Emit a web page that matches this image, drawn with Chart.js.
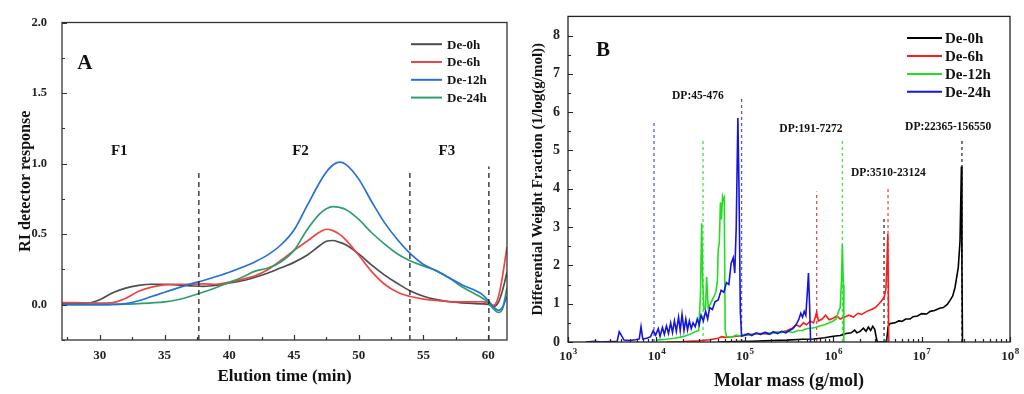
<!DOCTYPE html>
<html>
<head>
<meta charset="utf-8">
<script src="https://cdn.jsdelivr.net/npm/chart.js@4.4.1/dist/chart.umd.min.js"></script>
<style>
    html, body { margin: 0; padding: 0; background: #fff; }
    #page { position: relative; width: 1024px; height: 394px; overflow: hidden; }
    .panel { position: absolute; top: 0; width: 512px; height: 394px; }
    #panelA { left: 0; }
    #panelB { left: 512px; }
</style>
</head>
<body>
<div id="page">
    <div class="panel" id="panelA"><canvas id="riChart" width="512" height="394"></canvas></div>
    <div class="panel" id="panelB"><canvas id="massChart" width="512" height="394"></canvas></div>
</div>
<script>
// ---------- Panel A: RI detector response vs elution time ----------
const sampleLabels = ['De-0h', 'De-6h', 'De-12h', 'De-24h'];

const elutionTime = [27, 28, 29, 30, 31, 32, 33, 34, 35, 36, 37, 38, 39, 40, 41, 42, 43, 44, 45, 46,
    47, 47.5, 48, 48.5, 49, 50, 51, 52, 53, 54, 55, 56, 57, 58, 59, 59.5, 60, 60.4, 60.8, 61.1, 61.45];

const riDe0h = [0.01, 0.01, 0.01, 0.035, 0.085, 0.118, 0.137, 0.145, 0.145, 0.14, 0.134, 0.13, 0.138, 0.155, 0.17, 0.195,
    0.225, 0.262, 0.3, 0.35, 0.42, 0.45, 0.455, 0.443, 0.425, 0.36, 0.28, 0.21, 0.15, 0.097, 0.06, 0.036, 0.021, 0.013,
    0.008, 0.006, 0.003, -0.015, 0.02, 0.1, 0.23];
const riDe6h = [0.015, 0.015, 0.013, 0.012, 0.015, 0.045, 0.095, 0.125, 0.14, 0.145, 0.145, 0.148, 0.145, 0.16, 0.18, 0.205,
    0.25, 0.315, 0.385, 0.45, 0.515, 0.535, 0.525, 0.5, 0.46, 0.35, 0.235, 0.145, 0.088, 0.058, 0.04, 0.03, 0.022, 0.02,
    0.02, 0.022, 0.01, -0.005, 0.06, 0.2, 0.41];
const riDe12h = [0, 0, 0, 0, 0.002, 0.008, 0.028, 0.058, 0.088, 0.118, 0.147, 0.172, 0.2, 0.23, 0.265, 0.305,
    0.355, 0.425, 0.53, 0.7, 0.87, 0.94, 0.99, 1.01, 0.995, 0.89, 0.73, 0.58, 0.46, 0.36, 0.285, 0.24, 0.19, 0.14,
    0.1, 0.075, 0.03, -0.015, -0.04, -0.02, 0.06];
const riDe24h = [0, 0, 0, 0, 0.002, 0.004, 0.008, 0.013, 0.02, 0.035, 0.06, 0.09, 0.122, 0.158, 0.195, 0.238,
    0.26, 0.305, 0.385, 0.53, 0.645, 0.68, 0.695, 0.69, 0.675, 0.605, 0.51, 0.43, 0.36, 0.31, 0.275, 0.24, 0.19, 0.125,
    0.075, 0.05, 0.015, -0.03, -0.055, -0.03, 0.12];

const fractionBounds = [37.65, 53.95, 60.05];
const fractionBoundTop = [0.94, 0.94, 0.98];
const fractionNames = ['F1', 'F2', 'F3'];
const fractionNameTime = [31.5, 45.5, 56.8];

// ---------- Panel B: differential weight fraction vs molar mass ----------
// [molar mass g/mol, differential weight fraction]
const wfDe0h = [[5.0e4, 0], [8.0e4, 0.01], [1.2e5, 0.02], [2.0e5, 0.04], [3.0e5, 0.05], [4.5e5, 0.07], [6.0e5, 0.08],
    [8.0e5, 0.11], [1.0e6, 0.15], [1.2e6, 0.17], [1.4e6, 0.22], [1.6e6, 0.24], [1.75e6, 0.31], [1.85e6, 0.24],
    [2.0e6, 0.27], [2.2e6, 0.36], [2.35e6, 0.28], [2.5e6, 0.39], [2.65e6, 0.3], [2.8e6, 0.41], [2.95e6, 0.33],
    [3.05e6, 0.15], [3.15e6, 0], [3.95e6, 0], [4.05e6, 0.1], [4.2e6, 0.42], [4.4e6, 0.48], [5.0e6, 0.5],
    [5.5e6, 0.55], [6.0e6, 0.54], [6.6e6, 0.6], [7.4e6, 0.6], [8.0e6, 0.66], [9.0e6, 0.68], [1.0e7, 0.74],
    [1.14e7, 0.73], [1.25e7, 0.8], [1.4e7, 0.82], [1.6e7, 0.88], [1.76e7, 0.9], [1.95e7, 0.98], [2.09e7, 1.08],
    [2.25e7, 1.2], [2.39e7, 1.43], [2.6e7, 1.95], [2.72e7, 2.64], [2.82e7, 4.58], [2.86e7, 2.0], [2.9e7, 0]];
const wfDe6h = [[1.3e4, 0], [2.0e4, 0.01], [3.0e4, 0.03], [4.0e4, 0.06], [5.0e4, 0.1], [5.5e4, 0.14], [6.0e4, 0.12],
    [7.0e4, 0.13], [8.0e4, 0.15], [1.0e5, 0.17], [1.2e5, 0.2], [1.5e5, 0.22], [1.8e5, 0.21], [2.2e5, 0.25],
    [2.6e5, 0.26], [3.0e5, 0.3], [3.4e5, 0.35], [3.8e5, 0.45], [4.2e5, 0.4], [4.6e5, 0.5], [5.0e5, 0.45],
    [5.5e5, 0.55], [6.0e5, 0.5], [6.5e5, 0.78], [6.8e5, 0.55], [7.5e5, 0.6], [8.2e5, 0.7], [9.0e5, 0.58],
    [1.0e6, 0.62], [1.1e6, 0.68], [1.2e6, 0.6], [1.35e6, 0.65], [1.5e6, 0.7], [1.7e6, 0.65], [1.9e6, 0.75],
    [2.1e6, 0.72], [2.4e6, 0.8], [2.7e6, 0.85], [3.0e6, 0.9], [3.3e6, 1.0], [3.6e6, 1.1], [3.8e6, 1.2],
    [3.95e6, 1.4], [4.05e6, 2.0], [4.15e6, 2.82], [4.25e6, 0]];
const wfDe12h = [[1.0e4, 0.05], [1.3e4, 0.07], [1.6e4, 0.1], [2.0e4, 0.14], [2.4e4, 0.2], [2.7e4, 0.26], [3.0e4, 0.3],
    [3.15e4, 1.2], [3.25e4, 3.1], [3.35e4, 1.5], [3.45e4, 0.85], [3.6e4, 0.9], [3.7e4, 1.7], [3.85e4, 0.9],
    [4.1e4, 1.0], [4.4e4, 1.15], [4.7e4, 1.3], [4.9e4, 1.6], [5.0e4, 2.4], [5.15e4, 2.6], [5.3e4, 3.65],
    [5.45e4, 3.2], [5.6e4, 3.8], [5.75e4, 3.7], [5.85e4, 3.75], [6.0e4, 0.3], [6.2e4, 0.15], [7.0e4, 0.12],
    [8.0e4, 0.18], [9.0e4, 0.15], [1.0e5, 0.2], [1.15e5, 0.17], [1.3e5, 0.22], [1.5e5, 0.2], [1.7e5, 0.25],
    [2.0e5, 0.22], [2.3e5, 0.26], [2.6e5, 0.24], [3.0e5, 0.28], [3.5e5, 0.25], [4.0e5, 0.3], [4.5e5, 0.3],
    [5.0e5, 0.35], [5.6e5, 0.36], [6.3e5, 0.38], [7.0e5, 0.42], [8.0e5, 0.45], [9.0e5, 0.5], [1.0e6, 0.55],
    [1.08e6, 0.6], [1.15e6, 0.8], [1.2e6, 0.9], [1.24e6, 1.6], [1.27e6, 2.55], [1.3e6, 1.5], [1.32e6, 0]];
const wfDe24h = [[1.6e3, 0], [2.0e3, 0.02], [2.4e3, 0], [3.0e3, 0.01], [3.6e3, 0.02], [3.8e3, 0.27], [4.0e3, 0.18],
    [4.3e3, 0.05], [5.0e3, 0.04], [5.8e3, 0.06], [6.4e3, 0.08], [6.7e3, 0.4], [7.0e3, 0.08], [7.8e3, 0.1],
    [8.6e3, 0.14], [9.2e3, 0.3], [9.8e3, 0.18], [1.05e4, 0.35], [1.1e4, 0.15], [1.17e4, 0.38], [1.23e4, 0.2],
    [1.3e4, 0.42], [1.37e4, 0.22], [1.45e4, 0.5], [1.52e4, 0.25], [1.6e4, 0.55], [1.68e4, 0.28], [1.78e4, 0.65],
    [1.86e4, 0.3], [1.95e4, 0.72], [2.05e4, 0.3], [2.15e4, 0.6], [2.25e4, 0.32], [2.36e4, 0.55], [2.48e4, 0.35],
    [2.6e4, 0.5], [2.75e4, 0.4], [2.9e4, 0.6], [3.05e4, 0.45], [3.2e4, 0.7], [3.4e4, 0.55], [3.6e4, 0.8],
    [3.8e4, 0.6], [4.0e4, 0.9], [4.3e4, 0.85], [4.6e4, 1.05], [5.0e4, 1.1], [5.4e4, 1.35], [5.8e4, 1.3],
    [6.2e4, 1.55], [6.6e4, 1.5], [7.0e4, 2.05], [7.4e4, 2.2], [7.7e4, 1.8], [8.0e4, 3.0], [8.35e4, 5.85],
    [8.6e4, 4.0], [8.9e4, 0.8], [9.2e4, 0.15], [1.0e5, 0.18], [1.1e5, 0.22], [1.2e5, 0.17], [1.35e5, 0.24],
    [1.5e5, 0.2], [1.7e5, 0.25], [1.9e5, 0.2], [2.1e5, 0.27], [2.35e5, 0.22], [2.6e5, 0.28], [2.9e5, 0.24],
    [3.2e5, 0.3], [3.5e5, 0.35], [3.8e5, 0.45], [4.1e5, 0.6], [4.3e5, 0.75], [4.5e5, 0.65], [4.7e5, 0.8],
    [4.9e5, 0.7], [5.1e5, 1.3], [5.25e5, 1.8], [5.4e5, 1.0], [5.55e5, 0]];

// DP range markers (dashed) and their labels
const dpMarkMass = [9.4e3, 3.37e4, 9.2e4, 6.5e5, 1.27e6, 3.76e6, 4.17e6, 2.86e7];
const dpMarkTop = [5.72, 5.25, 6.4, 3.93, 5.25, 3.26, 4.07, 5.28];
const dpMarkSample = [3, 2, 3, 1, 2, 0, 1, 0];
const dpTexts = ['DP:45-476', 'DP:191-7272', 'DP:3510-23124', 'DP:22365-156550'];
const dpTextMass = [2.95e4, 5.6e5, 4.2e6, 2.0e7];
const dpTextLevel = [6.43, 5.55, 4.4, 5.6];

// ---------- styles ----------
const SERIF = "'Liberation Serif', 'Times New Roman', serif";
const colorsA = ['#4d4d4d', '#ec4646', '#2670d8', '#2e9e6c'];
const colorsB = ['#000000', '#ff1a1a', '#22dd22', '#1414dc'];
const dashColorsB = ['#333333', '#e85050', '#4ee04e', '#5a5ae0'];

function isMultiple(v, step) {
    const r = v / step;
    return Math.abs(r - Math.round(r)) < 1e-6;
}

/**
 * Frame round the plot area plus inward tick marks on bottom/left axes
 */
const frameAndTicks = {
    id: 'frameAndTicks',
    afterDatasetsDraw(chart, args, opts) {
        const { ctx, chartArea: a, scales } = chart;
        ctx.save();
        ctx.strokeStyle = opts.color || '#333';
        ctx.lineWidth = 1.2;
        ctx.beginPath();
        scales.x.ticks.forEach(t => {
            const px = Math.round(scales.x.getPixelForValue(t.value)) + 0.5;
            const len = t.label ? 5 : 3;
            ctx.moveTo(px, a.bottom);
            ctx.lineTo(px, a.bottom - len);
        });
        scales.y.ticks.forEach(t => {
            const py = Math.round(scales.y.getPixelForValue(t.value)) + 0.5;
            const len = t.label ? 5 : 3;
            ctx.moveTo(a.left, py);
            ctx.lineTo(a.left + len, py);
        });
        ctx.stroke();
        ctx.lineWidth = opts.width || 1.3;
        ctx.strokeRect(a.left, a.top, a.right - a.left, a.bottom - a.top);
        ctx.restore();
    }
};

/**
 * Legend in the top right corner of the plot area
 */
const cornerLegend = {
    id: 'cornerLegend',
    afterDraw(chart, args, opts) {
        const { ctx, chartArea: a } = chart;
        ctx.save();
        ctx.font = `bold ${opts.fontSize}px ${SERIF}`;
        ctx.textBaseline = 'middle';
        ctx.textAlign = 'left';
        chart.data.datasets.filter(d => d.inLegend).forEach((d, i) => {
            const y = a.top + opts.top + i * opts.rowGap;
            ctx.strokeStyle = d.borderColor;
            ctx.lineWidth = 2;
            ctx.beginPath();
            ctx.moveTo(a.right - opts.lineFrom, y);
            ctx.lineTo(a.right - opts.lineTo, y);
            ctx.stroke();
            ctx.fillStyle = '#111';
            ctx.fillText(d.label, a.right - opts.textAt, y + 1);
        });
        ctx.restore();
    }
};

/**
 * Free text placed at data coordinates
 */
const dataTexts = {
    id: 'dataTexts',
    afterDraw(chart, args, opts) {
        const { ctx, scales } = chart;
        ctx.save();
        ctx.textAlign = 'center';
        ctx.textBaseline = 'middle';
        ctx.fillStyle = '#111';
        opts.items.forEach(it => {
            ctx.font = `bold ${it.size}px ${SERIF}`;
            ctx.fillText(it.text, scales.x.getPixelForValue(it.x), scales.y.getPixelForValue(it.y));
        });
        ctx.restore();
    }
};

/**
 * Power-of-ten labels (10 with a raised exponent) under a log axis
 */
const powerLabels = {
    id: 'powerLabels',
    afterDraw(chart, args, opts) {
        const { ctx, chartArea: a, scales: { x } } = chart;
        ctx.save();
        ctx.fillStyle = '#222';
        ctx.textAlign = 'left';
        ctx.textBaseline = 'alphabetic';
        x.ticks.forEach(t => {
            if (!t.label) return;
            const px = x.getPixelForValue(t.value);
            ctx.font = `bold ${opts.size}px ${SERIF}`;
            const wBase = ctx.measureText('10').width;
            ctx.font = `bold ${opts.supSize}px ${SERIF}`;
            const wExp = ctx.measureText(t.label).width;
            const left = px - (wBase + wExp) / 2;
            const base = a.bottom + opts.offset;
            ctx.font = `bold ${opts.size}px ${SERIF}`;
            ctx.fillText('10', left, base);
            ctx.font = `bold ${opts.supSize}px ${SERIF}`;
            ctx.fillText(t.label, left + wBase + 0.5, base - opts.raise);
        });
        ctx.restore();
    }
};

const baseLine = { pointRadius: 0, pointHoverRadius: 0, fill: false };

// ---------- chart A ----------
const riSeries = [riDe0h, riDe6h, riDe12h, riDe24h];
const riDatasets = riSeries.map((vals, i) => ({
    ...baseLine,
    label: sampleLabels[i],
    inLegend: true,
    data: elutionTime.map((t, j) => ({ x: t, y: vals[j] })),
    borderColor: colorsA[i],
    borderWidth: 1.7,
    cubicInterpolationMode: 'monotone',
    order: [3, 2, 0, 1][i]
}));
const boundaryDatasets = fractionBounds.map((t, i) => ({
    ...baseLine,
    label: 'bound' + i,
    data: [{ x: t, y: -0.25 }, { x: t, y: fractionBoundTop[i] }],
    borderColor: '#222',
    borderWidth: 1.3,
    borderDash: [5, 4],
    order: -1
}));

new Chart(document.getElementById('riChart'), {
    type: 'line',
    data: { datasets: [...riDatasets, ...boundaryDatasets] },
    options: {
        responsive: false,
        animation: false,
        events: [],
        layout: { padding: { left: 0, top: 15, right: 5, bottom: 0 } },
        scales: {
            x: {
                type: 'linear', min: 27.08, max: 61.45,
                grid: { display: false, drawTicks: false }, border: { display: false },
                afterFit: s => { s.height = 54; },
                ticks: {
                    stepSize: 2.5, includeBounds: false, autoSkip: false, maxRotation: 0, padding: 8,
                    color: '#222', font: { family: SERIF, size: 13, weight: 'bold' },
                    callback: v => isMultiple(v, 5) ? String(v) : ''
                },
                title: {
                    display: true, text: 'Elution time (min)', color: '#111',
                    font: { family: SERIF, size: 17, weight: 'bold' }, padding: { top: 0, bottom: 7 }
                }
            },
            y: {
                min: -0.25, max: 2.0,
                grid: { display: false, drawTicks: false }, border: { display: false },
                afterFit: s => { s.width = 62; },
                ticks: {
                    stepSize: 0.25, includeBounds: false, autoSkip: false, padding: 15,
                    color: '#222', font: { family: SERIF, size: 12.5, weight: 'bold' },
                    callback: v => isMultiple(v, 0.5) ? v.toFixed(1) : ''
                },
                title: {
                    display: true, text: 'RI detector response', color: '#111',
                    font: { family: SERIF, size: 16, weight: 'bold' }, padding: { top: 16, bottom: 0 }
                }
            }
        },
        plugins: {
            legend: { display: false },
            tooltip: { enabled: false },
            frameAndTicks: { color: '#333', width: 1.3 },
            cornerLegend: { fontSize: 13, top: 21.7, rowGap: 17.8, lineFrom: 96, lineTo: 65, textAt: 60 },
            dataTexts: {
                items: [
                    { text: 'A', x: 28.85, y: 1.71, size: 21 },
                    ...fractionNames.map((n, i) => ({ text: n, x: fractionNameTime[i], y: 1.09, size: 15 }))
                ]
            }
        }
    },
    plugins: [frameAndTicks, cornerLegend, dataTexts]
});

// ---------- chart B ----------
const wfSeries = [wfDe0h, wfDe6h, wfDe12h, wfDe24h];
const wfDatasets = wfSeries.map((pts, i) => ({
    ...baseLine,
    label: sampleLabels[i],
    inLegend: true,
    data: pts,
    borderColor: colorsB[i],
    borderWidth: 1.6,
    tension: 0,
    order: [3, 2, 1, 0][i]
}));
const dpDatasets = dpMarkMass.map((m, i) => ({
    ...baseLine,
    label: 'dp' + i,
    data: [[m, 0], [m, dpMarkTop[i]]],
    borderColor: dashColorsB[dpMarkSample[i]],
    borderWidth: 1.3,
    borderDash: [3, 3],
    order: 10
}));

const logTicks = [];
for (let e = 3; e <= 8; e++) {
    for (let k = 1; k <= 9; k++) {
        const v = k * Math.pow(10, e);
        if (v <= 1e8) logTicks.push(v);
    }
}

new Chart(document.getElementById('massChart'), {
    type: 'line',
    data: { datasets: [...wfDatasets, ...dpDatasets] },
    options: {
        responsive: false,
        animation: false,
        events: [],
        layout: { padding: { left: 0, top: 14, right: 14, bottom: 0 } },
        scales: {
            x: {
                type: 'logarithmic', min: 1e3, max: 1e8,
                grid: { display: false, drawTicks: false }, border: { display: false },
                afterFit: s => { s.height = 52; },
                afterBuildTicks: s => { s.ticks = logTicks.map(v => ({ value: v })); },
                ticks: {
                    autoSkip: false, maxRotation: 0, padding: 6,
                    color: 'rgba(0,0,0,0)', font: { family: SERIF, size: 13, weight: 'bold' },
                    callback: v => {
                        const e = Math.log10(v);
                        return Math.abs(e - Math.round(e)) < 1e-9 ? String(Math.round(e)) : '';
                    }
                },
                title: {
                    display: true, text: 'Molar mass (g/mol)', color: '#111',
                    font: { family: SERIF, size: 18, weight: 'bold' }, padding: { top: 0, bottom: 2 }
                }
            },
            y: {
                min: 0, max: 8.5,
                grid: { display: false, drawTicks: false }, border: { display: false },
                afterFit: s => { s.width = 56; },
                ticks: {
                    stepSize: 0.5, includeBounds: false, autoSkip: false, padding: 8,
                    color: '#222', font: { family: SERIF, size: 14, weight: 'bold' },
                    callback: v => isMultiple(v, 1) ? String(Math.round(v)) : ''
                },
                title: {
                    display: true, text: 'Differential Weight Fraction (1/log(g/mol))', color: '#111',
                    font: { family: SERIF, size: 15, weight: 'bold' }, padding: { top: 17, bottom: 0 }
                }
            }
        },
        plugins: {
            legend: { display: false },
            tooltip: { enabled: false },
            frameAndTicks: { color: '#222', width: 1.3 },
            powerLabels: { size: 13, supSize: 9, offset: 18, raise: 6 },
            cornerLegend: { fontSize: 15, top: 21.7, rowGap: 17.9, lineFrom: 103, lineTo: 68, textAt: 65 },
            dataTexts: {
                items: [
                    { text: 'B', x: 2490, y: 7.62, size: 21 },
                    ...dpTexts.map((t, i) => ({ text: t, x: dpTextMass[i], y: dpTextLevel[i], size: 11.5 }))
                ]
            }
        }
    },
    plugins: [frameAndTicks, powerLabels, cornerLegend, dataTexts]
});
</script>
</body>
</html>
